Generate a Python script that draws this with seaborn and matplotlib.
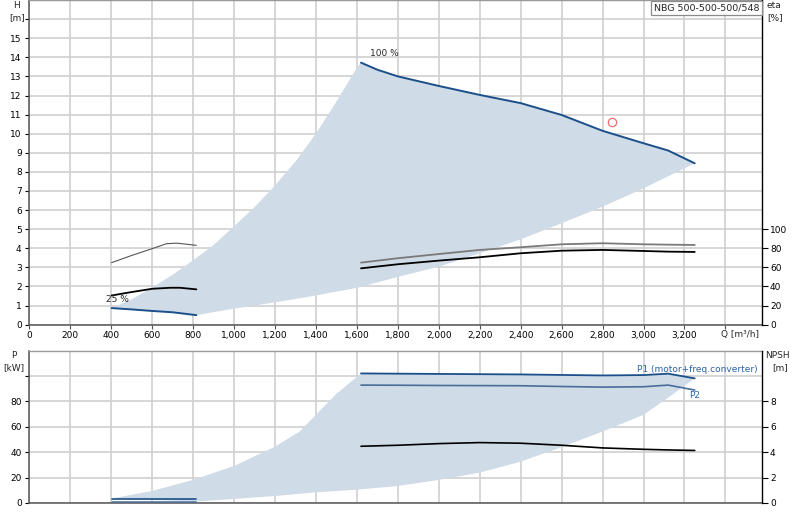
import matplotlib
matplotlib.use("Agg")
import matplotlib.pyplot as plt
import seaborn as sns
import pandas as pd
import numpy as np

# ---------------- data ----------------
q_ticks = list(range(0, 3201, 200))
q_tick_labels = [f"{v:,}" for v in q_ticks]
h_ticks = list(range(0, 16))
eta_ticks = [0, 20, 40, 60, 80, 100]
p_ticks = [0, 20, 40, 60, 80]
npsh_ticks = [0, 2, 4, 6, 8]

# 100 % speed head curve
h100_q = [1620, 1700, 1800, 2000, 2200, 2400, 2600, 2800, 3000, 3120, 3250]
h100_h = [13.72, 13.35, 13.0, 12.5, 12.03, 11.6, 10.98, 10.15, 9.5, 9.12, 8.45]
# 25 % speed head curve
h25_q = [402, 500, 600, 700, 816]
h25_h = [0.87, 0.80, 0.72, 0.65, 0.50]

# shaded operating range (head)
hl_q = [402, 505, 600, 702, 800, 898, 1000, 1101, 1200, 1304, 1400, 1499, 1600, 1620]
hl_h = [0.87, 1.36, 1.94, 2.63, 3.37, 4.15, 5.15, 6.16, 7.29, 8.6, 10.0, 11.66, 13.45, 13.72]
hr_q = [816, 1000, 1200, 1400, 1600, 1800, 2000, 2200, 2400, 2600, 2800, 3000, 3250]
hr_h = [0.50, 0.84, 1.17, 1.53, 1.93, 2.5, 3.04, 3.74, 4.47, 5.31, 6.18, 7.14, 8.45]

# efficiency curves (%)
eta_q100 = [1620, 1800, 2000, 2200, 2400, 2600, 2800, 3000, 3120, 3250]
eta_pump100 = [65, 69.6, 74.0, 78.3, 81.1, 84.2, 85.3, 84.2, 83.8, 83.5]
eta_tot100 = [59, 63.3, 67.1, 70.6, 74.8, 77.5, 78.3, 77.2, 76.5, 76.2]
eta_q25 = [402, 500, 600, 670, 720, 816]
eta_pump25 = [65, 72.5, 79.6, 84.8, 85.4, 83.1]
eta_q25b = [402, 500, 600, 690, 735, 816]
eta_tot25 = [30.6, 34.2, 37.6, 38.7, 38.7, 37.0]

# duty point
duty_q = [2846]
duty_h = [10.6]

# power curves (kW)
p_q100 = [1620, 1800, 2000, 2200, 2400, 2600, 2800, 3000, 3120, 3250]
p1_100 = [102.1, 101.9, 101.7, 101.5, 101.3, 100.9, 100.5, 100.8, 101.9, 98.2]
p2_100 = [92.9, 92.8, 92.6, 92.5, 92.4, 91.8, 91.3, 91.6, 92.9, 89.0]
p_q25 = [402, 600, 816]
p1_25 = [3.2, 3.2, 3.2]
p2_25 = [1.1, 1.1, 1.1]

# NPSH (m)
npsh_q = [1620, 1800, 2000, 2200, 2400, 2600, 2800, 3000, 3120, 3250]
npsh_m = [4.47, 4.55, 4.68, 4.76, 4.71, 4.55, 4.34, 4.23, 4.18, 4.14]

# shaded operating range (power)
pl_q = [402, 600, 800, 1000, 1200, 1320, 1400, 1500, 1620]
pl_p = [3.5, 9.5, 18.2, 29.2, 44.4, 56.3, 69.5, 86.0, 102.1]
pr_q = [816, 1000, 1200, 1400, 1600, 1800, 2000, 2200, 2400, 2600, 2800, 3000, 3120, 3250]
pr_p = [1.2, 3.2, 5.5, 8.4, 10.5, 13.4, 18.2, 23.9, 32.6, 44.0, 56.3, 69.5, 83.0, 98.2]

# ---------------- styling ----------------
sns.set_theme(style="white")
plt.rcParams["font.family"] = ["DejaVu Sans"]
FS = 6.5
SHADE = "#cfdbe7"
BLUE = "#1b4f8a"
GRID = "#cfcfcf"
AX = "#555555"

W, H = 800, 520
fig = plt.figure(figsize=(8, 5.2), dpi=100)
XMAX = 3580

def px_axes(l, t, r, b):
    return fig.add_axes([l / W, 1 - b / H, (r - l) / W, (b - t) / H])

def style(ax):
    ax.set_facecolor("white")
    ax.set_xlim(0, XMAX)
    ax.set_xticks(list(range(0, 3401, 200)))
    ax.grid(True, color=GRID, lw=1.2)
    ax.set_axisbelow(True)
    for s in ["left", "bottom"]:
        ax.spines[s].set_color(AX)
        ax.spines[s].set_linewidth(1.1)
    ax.spines["top"].set_color("#999999")
    ax.spines["top"].set_linewidth(1.0)
    ax.spines["right"].set_visible(False)
    ax.tick_params(axis="y", which="both", direction="out", length=3, width=0.8,
                   color="black", labelsize=FS, pad=2.5, left=True, labelcolor="black")
    ax.tick_params(axis="x", direction="out", length=3, width=0.8, color=AX,
                   labelsize=FS, pad=1.5, bottom=True, labelcolor="black")

# ================= top chart =================
ax1 = px_axes(29.3, 0, 762.3, 324.7)
style(ax1)
ax1.set_ylim(0, 17)
ax1.set_yticks(list(range(0, 17)))
ax1.set_yticklabels([str(v) for v in h_ticks] + [""])
ax1.set_xticklabels(q_tick_labels + [""])

poly_q = hl_q + h100_q + hr_q[::-1] + h25_q[::-1]
poly_h = hl_h + h100_h + hr_h[::-1] + h25_h[::-1]
ax1.fill(poly_q, poly_h, color=SHADE, lw=0, zorder=1)

ETA_SCALE = 20.0  # 1 m of head per 20 % of eta on the right axis
df_head = pd.DataFrame({"Q": h100_q, "H": h100_h})
sns.lineplot(data=df_head, x="Q", y="H", ax=ax1, color=BLUE, lw=1.4, sort=False, estimator=None, zorder=3)
sns.lineplot(x=h25_q, y=h25_h, ax=ax1, color=BLUE, lw=1.4, sort=False, estimator=None, zorder=3)
sns.lineplot(x=eta_q100, y=np.array(eta_pump100) / ETA_SCALE, ax=ax1, color="#7a7a7a", lw=1.3,
             sort=False, estimator=None, zorder=3)
sns.lineplot(x=eta_q100, y=np.array(eta_tot100) / ETA_SCALE, ax=ax1, color="black", lw=1.3,
             sort=False, estimator=None, zorder=3)
sns.lineplot(x=eta_q25, y=np.array(eta_pump25) / ETA_SCALE, ax=ax1, color="#555555", lw=0.8,
             sort=False, estimator=None, zorder=3)
sns.lineplot(x=eta_q25b, y=np.array(eta_tot25) / ETA_SCALE, ax=ax1, color="black", lw=1.3,
             sort=False, estimator=None, zorder=3)
ax1.plot(duty_q, duty_h, "o", mfc="none", mec="#e87070", ms=6, mew=0.9, zorder=4)
ax1.set_xlabel("")
ax1.set_ylabel("")

ax1.text(1664, 14.18, "100 %", fontsize=FS, va="center", ha="left")
ax1.text(432, 1.33, "25 %", fontsize=FS, va="center", ha="center")

# right eta axis
axr = ax1.twinx()
axr.set_ylim(0, 17 * ETA_SCALE)
axr.set_yticks(eta_ticks)
axr.set_yticklabels([str(v) for v in eta_ticks])
axr.grid(False)
for s in ["left", "top", "bottom"]:
    axr.spines[s].set_visible(False)
axr.spines["right"].set_color("black")
axr.spines["right"].set_linewidth(1.0)
axr.tick_params(axis="y", direction="out", length=4, width=0.8, color="black",
                labelsize=FS, pad=1.5, right=True, labelcolor="black")

# axis captions (pixel coordinates)
def ftext(x, y, s, **kw):
    fig.text(x / W, 1 - y / H, s, fontsize=FS, va="center", **kw)

ftext(16.7, 5.5, "H", ha="center")
ftext(17.0, 17.5, "[m]", ha="center")
ftext(774, 5.5, "eta", ha="center")
ftext(775, 17.5, "[%]", ha="center")
ftext(740, 334.5, "Q [m³/h]", ha="center")

# model box
fig.text(706.7 / W, 1 - 8 / H, "NBG 500-500-500/548", fontsize=FS + 0.3, ha="center", va="center",
         bbox=dict(boxstyle="square,pad=0.28", fc="white", ec="#8a8a8a", lw=0.9))

# ================= bottom chart =================
ax2 = px_axes(29.3, 350.7, 762.3, 503)
style(ax2)
ax2.set_ylim(0, 120)
ax2.set_yticks([0, 20, 40, 60, 80, 100])
ax2.set_yticklabels([str(v) for v in p_ticks] + [""])
ax2.tick_params(axis="x", labelbottom=False, length=0)

ppoly_q = pl_q + p_q100 + pr_q[::-1]
ppoly_p = pl_p + p1_100 + pr_p[::-1]
ax2.fill(ppoly_q, ppoly_p, color=SHADE, lw=0, zorder=1)

sns.lineplot(x=p_q100, y=p1_100, ax=ax2, color=BLUE, lw=1.3, sort=False, estimator=None, zorder=3)
sns.lineplot(x=p_q100, y=p2_100, ax=ax2, color="#4a6d99", lw=1.2, sort=False, estimator=None, zorder=3)
sns.lineplot(x=p_q25, y=p1_25, ax=ax2, color=BLUE, lw=1.2, sort=False, estimator=None, zorder=3)
sns.lineplot(x=p_q25, y=p2_25, ax=ax2, color="#4a6d99", lw=1.1, sort=False, estimator=None, zorder=3)
NPSH_SCALE = 10.0
sns.lineplot(x=npsh_q, y=np.array(npsh_m) * NPSH_SCALE, ax=ax2, color="black", lw=1.2,
             sort=False, estimator=None, zorder=3)
ax2.set_xlabel("")
ax2.set_ylabel("")

ax2.text(2967, 105, "P1 (motor+freq.converter)", fontsize=FS, color="#2a64a8", ha="left", va="center")
ax2.text(3222, 85, "P2", fontsize=FS, color="#2a64a8", ha="left", va="center")

axr2 = ax2.twinx()
axr2.set_ylim(0, 120 / NPSH_SCALE)
axr2.set_yticks(npsh_ticks)
axr2.set_yticklabels([str(v) for v in npsh_ticks])
axr2.grid(False)
for s in ["left", "top", "bottom"]:
    axr2.spines[s].set_visible(False)
axr2.spines["right"].set_color("black")
axr2.spines["right"].set_linewidth(1.0)
axr2.tick_params(axis="y", direction="out", length=4, width=0.8, color="black",
                 labelsize=FS, pad=1.5, right=True, labelcolor="black")

ftext(13.5, 355.5, "P", ha="center")
ftext(14.0, 367.5, "[kW]", ha="center")
ftext(777.7, 355.5, "NPSH", ha="center")
ftext(780, 367.5, "[m]", ha="center")

fig.savefig("out.png", dpi=100, facecolor="white")
